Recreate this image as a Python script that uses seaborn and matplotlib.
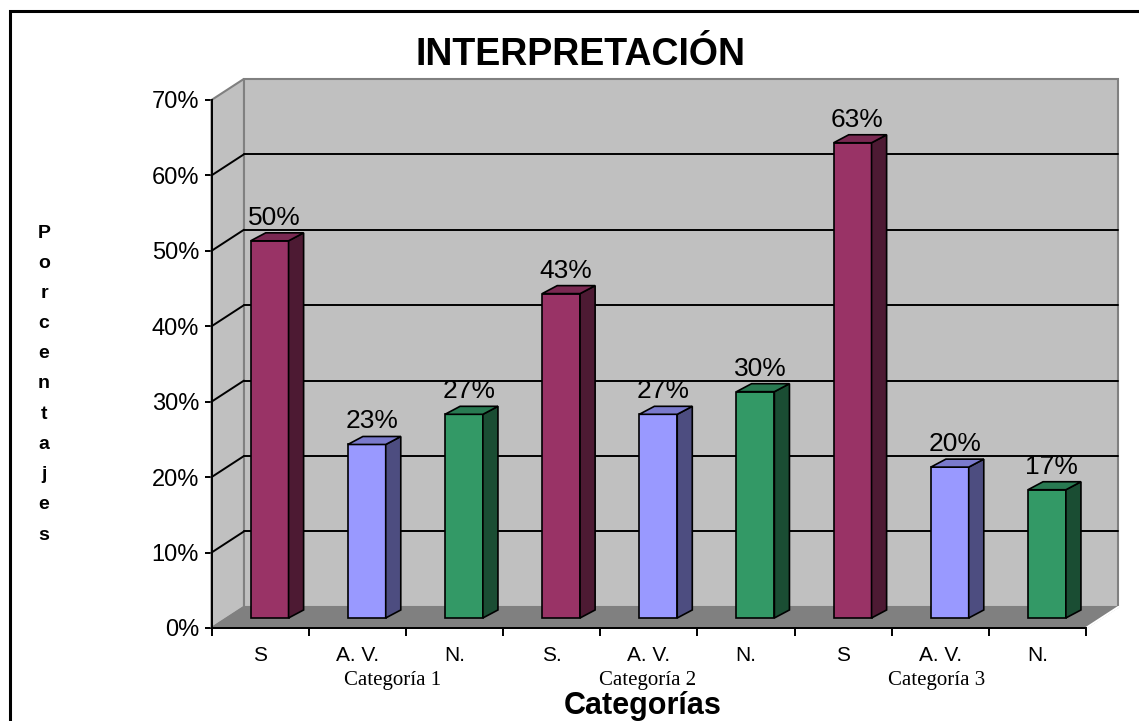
import matplotlib
matplotlib.use("Agg")
import matplotlib.pyplot as plt
from matplotlib.patches import Rectangle, Polygon
import seaborn as sns
import numpy as np
import pandas as pd

# data
categorias = ["Categoría 1", "Categoría 2", "Categoría 3"]
etiquetas = ["S", "A. V.", "N.", "S.", "A. V.", "N.", "S", "A. V.", "N."]
series = ["S", "A. V.", "N."] * 3
valores = [0.50, 0.23, 0.27, 0.43, 0.27, 0.30, 0.63, 0.20, 0.17]
y_ticks = [0.0, 0.1, 0.2, 0.3, 0.4, 0.5, 0.6, 0.7]
colores = {"S": "#993366", "A. V.": "#9999FF", "N.": "#339966"}
cat_pos = [1.36, 3.99, 6.96]  # where the group captions sit on the x scale

sns.set_style("white")
plt.rcParams["font.family"] = ["Liberation Sans", "DejaVu Sans"]
plt.rcParams["text.color"] = "black"
plt.rcParams["xtick.color"] = "black"
plt.rcParams["ytick.color"] = "black"
plt.rcParams["xtick.labelcolor"] = "black"
plt.rcParams["ytick.labelcolor"] = "black"

W, H = 1139, 721
fig = plt.figure(figsize=(W / 100, H / 100), dpi=100)
ax = fig.add_axes([211.5 / W, (H - 628) / H, (1086 - 211.5) / W, 528 / H])
ax.patch.set_visible(False)

df = pd.DataFrame({
    "item": [f"{c}|{e}|{i}" for i, (c, e) in enumerate(zip(np.repeat(categorias, 3), etiquetas))],
    "serie": series,
    "valor": valores,
})

sns.barplot(data=df, x="item", y="valor", hue="serie", palette=colores,
            dodge=False, width=0.39, saturation=1, edgecolor="black", linewidth=1.2,
            legend=False, ax=ax, zorder=3)
bars = [p for p in ax.patches if np.isfinite(p.get_height()) and p.get_height() > 0]

ax.set_xlim(-0.5, 8.5)
ax.set_ylim(0, 0.7)

# 3d look: offsets in data units
dxb, dyb = 0.334, 0.028      # back wall
dxm, dym = 0.098, 0.0133     # bar plane
ddx, ddy = 0.155, 0.0106     # bar depth

# walls and floor
ax.add_patch(Rectangle((-0.5 + dxb, dyb), 9, 0.7, fc="#C0C0C0", ec="#808080",
                       lw=1.5, zorder=0.5, clip_on=False))
ax.add_patch(Polygon([(-0.5, 0), (-0.5, 0.7), (-0.5 + dxb, 0.7 + dyb), (-0.5 + dxb, dyb)],
                     closed=True, fc="#C0C0C0", ec="#808080", lw=1.5, zorder=0.6, clip_on=False))
for y in y_ticks[1:-1]:
    ax.plot([-0.5 + dxb, 8.5 + dxb], [y + dyb, y + dyb], color="black", lw=1.4,
            zorder=1, clip_on=False)
    ax.plot([-0.5, -0.5 + dxb], [y, y + dyb], color="black", lw=1.4, zorder=1, clip_on=False)
ax.add_patch(Polygon([(-0.5, 0), (8.5, 0), (8.5 + dxb, dyb), (-0.5 + dxb, dyb)],
                     closed=True, fc="#808080", ec="#808080", lw=1, zorder=1.5, clip_on=False))
ax.plot([8.5, 8.5 + dxb], [0, dyb], color="white", lw=1.5, zorder=1.6, clip_on=False)

# move bars onto their plane and give them sides and tops
for p in bars:
    p.set_x(p.get_x() + dxm)
    p.set_y(dym)
    x0, x1 = p.get_x(), p.get_x() + p.get_width()
    y0, y1 = dym, dym + p.get_height()
    fc = np.array(p.get_facecolor()[:3])
    ax.add_patch(Polygon([(x1, y0), (x1 + ddx, y0 + ddy), (x1 + ddx, y1 + ddy), (x1, y1)],
                         closed=True, fc=fc * 0.5, ec="black", lw=1.2, zorder=3, clip_on=False))
    ax.add_patch(Polygon([(x0, y1), (x0 + ddx, y1 + ddy), (x1 + ddx, y1 + ddy), (x1, y1)],
                         closed=True, fc=fc * 0.8, ec="black", lw=1.2, zorder=3, clip_on=False))
    ax.annotate(f"{round(p.get_height() * 100)}%", ((x0 + x1) / 2 + 0.05, y1),
                xytext=(0, 8), textcoords="offset points", ha="center", va="bottom",
                fontsize=19, color="black", zorder=4)

# axes
for s in ["top", "right"]:
    ax.spines[s].set_visible(False)
for s in ["left", "bottom"]:
    ax.spines[s].set_color("black")
    ax.spines[s].set_linewidth(1.4)
    ax.spines[s].set_zorder(2)

ax.set_yticks(y_ticks)
ax.set_yticklabels([f"{int(round(t * 100))}%" for t in y_ticks], fontsize=17)
ax.tick_params(axis="y", direction="out", length=5, width=1.4, color="black", pad=4, left=True)

ax.set_xticks(np.arange(-0.5, 9, 1))
ax.set_xticklabels([])
ax.set_xticks(range(9), minor=True)
ax.set_xticklabels(etiquetas, minor=True, fontsize=15)
ax.tick_params(axis="x", which="major", direction="out", length=6, width=1.4, color="black", bottom=True)
ax.tick_params(axis="x", which="minor", length=0, pad=13)
ax.set_xlabel("")
ax.set_ylabel("")

for c, xp in zip(categorias, cat_pos):
    ax.text(xp, -0.100, c, transform=ax.get_xaxis_transform(), ha="center", va="center",
            fontsize=15, family=["Liberation Serif", "DejaVu Serif"])

fig.text(643 / W, 1 - 706 / H, "Categorías", ha="center", va="center",
         fontsize=22, fontweight="bold")
fig.text(580 / W, 1 - 55 / H, "INTERPRETACIÓN", ha="center", va="center",
         fontsize=27, fontweight="bold")

for i, ch in enumerate("Porcentajes"):
    fig.text(44 / W, 1 - (233 + i * 30.2) / H, ch, ha="center", va="center",
             fontsize=14, fontweight="bold")

# outer frame of the chart area
fig.add_artist(Rectangle((10 / W, -0.1), 2, 1.1 - 11 / H, transform=fig.transFigure,
                         fill=False, ec="black", lw=2.2))

fig.savefig("out.png", dpi=100)
